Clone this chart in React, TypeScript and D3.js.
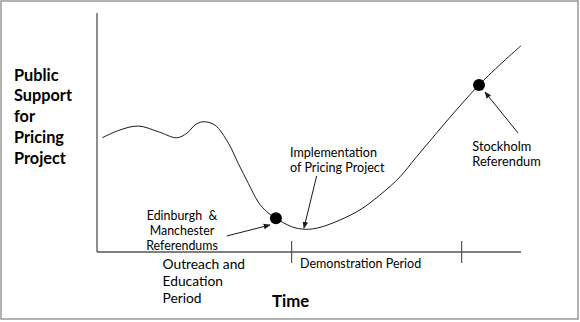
import React from "react";
import * as d3 from "d3";

// Public support curve over the life of the pricing project
const timeSteps = [1.25, 5.0, 9.7, 14.5, 18.8, 21.2, 23.1, 25.0, 27.8, 31.0, 33.3, 35.7, 38.0, 40.0, 42.2, 45.9, 49.1, 52.6, 57.3, 62.0, 66.7, 71.5, 75.4, 90.1, 100];
const supportLevels = [47.8, 50.8, 52.7, 50.3, 47.8, 49.7, 53.1, 54.5, 53.1, 45.5, 37.1, 28.7, 21.0, 16.9, 14.1, 10.6, 9.5, 10.3, 13.4, 17.6, 23.8, 31.5, 39.9, 69.9, 86.3];

// Referendum events marked on the curve
const eventTimes = [42.2, 90.1];
const eventSupport = [14.1, 69.9];

// Boundaries between periods on the time axis
const periodBounds = [45.9, 86.0];

// Annotation arrows: tail and tip in chart units
const arrowTailTime = [30.6, 51.8, 99.3];
const arrowTailSupport = [6.7, 31.8, 49.8];
const arrowTipTime = [40.8, 48.8, 91.5];
const arrowTipSupport = [11.3, 10.0, 66.9];

const yTitleLines = ["Public", "Support", "for", "Pricing", "Project"];
const outreachLines = ["Outreach and", "Education", "Period"];
const edinburghLines = ["Edinburgh  &", "Manchester", "Referendums"];
const implementationLines = ["Implementation", "of Pricing Project"];
const stockholmLines = ["Stockholm", "Referendum"];

const W = 580;
const H = 322;
const FONT = "Lato, 'Open Sans', sans-serif";

export default function App() {
  const x = d3.scaleLinear().domain([0, 100]).range([97, 521]);
  const y = d3.scaleLinear().domain([0, 100]).range([252, 13]);

  const line = d3
    .line<number>()
    .x((_, i) => x(timeSteps[i]))
    .y((d) => y(d))
    .curve(d3.curveCatmullRom.alpha(0.5));

  const ink = "#1a1a1a";

  return (
    <svg width={W} height={H} style={{ position: "absolute", left: 0, top: 0, background: "#fff" }} fontFamily={FONT}>
      <defs>
        <marker id="arrowHead" viewBox="0 0 10 10" refX="9" refY="5" markerWidth="7" markerHeight="7" orient="auto" markerUnits="userSpaceOnUse">
          <path d="M0,1 L10,5 L0,9 Z" fill={ink} />
        </marker>
      </defs>
      <rect x={1} y={1} width={577} height={318} fill="#fff" stroke="#8a8a8a" strokeWidth={1.3} />

      {/* axes */}
      <line x1={x(0)} x2={x(0)} y1={y(100)} y2={y(0)} stroke="#444" strokeWidth={1.2} />
      <line x1={x(0)} x2={x(100)} y1={y(0)} y2={y(0)} stroke="#555" strokeWidth={1.3} />
      {periodBounds.map((t, i) => (
        <line key={i} x1={x(t)} x2={x(t)} y1={y(0) - 11} y2={y(0) + 11} stroke="#555" strokeWidth={1.2} />
      ))}

      {/* support curve */}
      <path d={line(supportLevels) || ""} fill="none" stroke={ink} strokeWidth={1} />

      {/* events */}
      {eventTimes.map((t, i) => (
        <circle key={i} cx={x(t)} cy={y(eventSupport[i])} r={6} fill="#000" />
      ))}

      {/* arrows */}
      {arrowTailTime.map((t, i) => (
        <line
          key={i}
          x1={x(t)}
          y1={y(arrowTailSupport[i])}
          x2={x(arrowTipTime[i])}
          y2={y(arrowTipSupport[i])}
          stroke={ink}
          strokeWidth={1}
          markerEnd="url(#arrowHead)"
        />
      ))}

      {/* y title */}
      <text fontWeight="bold" fontSize={16.3} fill="#000">
        {yTitleLines.map((s, i) => (
          <tspan key={i} x={14} y={80.7 + i * 20.7}>
            {s}
          </tspan>
        ))}
      </text>

      {/* x title */}
      <text x={272} y={306.7} fontWeight="bold" fontSize={16.8} fill="#000">
        Time
      </text>

      {/* period labels */}
      <text fontSize={13.8} fill="#000">
        {outreachLines.map((s, i) => (
          <tspan key={i} x={162.5} y={269.3 + i * 16.8}>
            {s}
          </tspan>
        ))}
      </text>
      <text x={300} y={267.7} fontSize={12.5} fill="#000">
        Demonstration Period
      </text>

      {/* annotations */}
      <text fontSize={12.4} fill="#000" textAnchor="middle" style={{ whiteSpace: "pre" }}>
        {edinburghLines.map((s, i) => (
          <tspan key={i} x={182} y={220 + i * 15.2}>
            {s}
          </tspan>
        ))}
      </text>
      <text fontSize={12.6} fill="#000">
        {implementationLines.map((s, i) => (
          <tspan key={i} x={290} y={157.3 + i * 14.6}>
            {s}
          </tspan>
        ))}
      </text>
      <text fontSize={12.8} fill="#000">
        {stockholmLines.map((s, i) => (
          <tspan key={i} x={472.3} y={150.7 + i * 15.4}>
            {s}
          </tspan>
        ))}
      </text>
    </svg>
  );
}
